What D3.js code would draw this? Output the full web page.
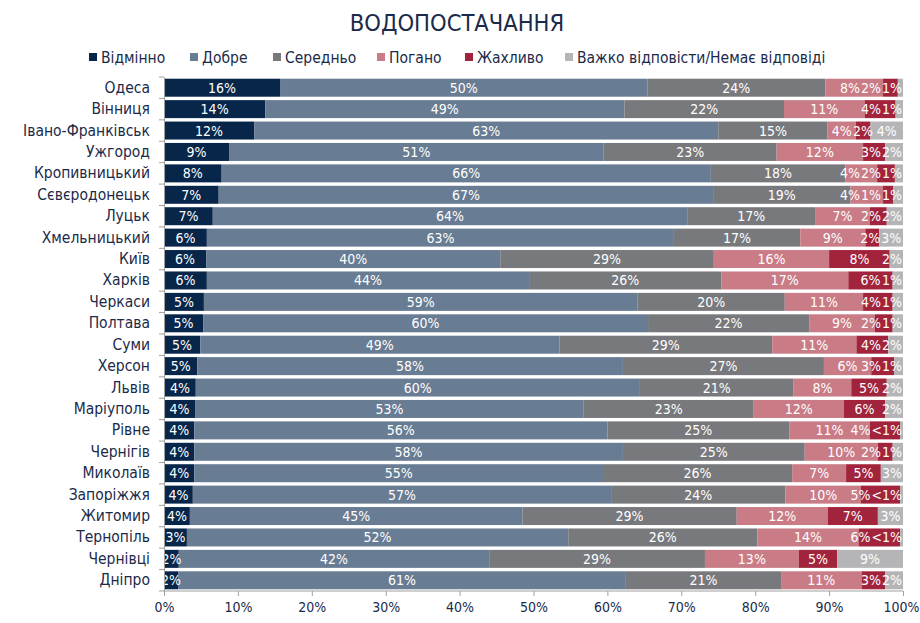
<!DOCTYPE html>
<html><head><meta charset="utf-8">
<script src="https://cdn.jsdelivr.net/npm/d3@7"></script>
<style>
body{margin:0;background:#fff;}
svg{display:block;font-family:"DejaVu Sans Condensed","DejaVu Sans",sans-serif;}
</style></head>
<body><svg id="chart" width="920" height="623"></svg>
<script>
const title = "ВОДОПОСТАЧАННЯ";
const cities = ["Одеса","Вінниця","Івано-Франківськ","Ужгород","Кропивницький","Сєвєродонецьк","Луцьк","Хмельницький","Київ","Харків","Черкаси","Полтава","Суми","Херсон","Львів","Маріуполь","Рівне","Чернігів","Миколаїв","Запоріжжя","Житомир","Тернопіль","Чернівці","Дніпро"];
const seriesNames = ["Відмінно","Добре","Середньо","Погано","Жахливо","Важко відповісти/Немає відповіді"];
const seriesColors = ["#07264a","#687c93","#78797c","#c97b86","#a2243c","#b5b5b7"];
const excellent = [15.7,13.7,12.2,8.8,7.8,7.4,6.6,5.8,5.7,5.8,5.4,5.3,4.9,4.5,4.3,4.2,4.1,4.1,4.1,3.9,3.5,3.1,2.0,1.9];
const good      = [49.7,48.6,62.8,50.7,66.2,66.9,64.2,63.2,39.8,43.6,58.7,60.2,48.6,57.6,60.1,52.6,55.9,58.0,55.3,56.6,45.0,51.6,42.0,60.6];
const average   = [24.1,21.6,14.8,23.4,18.2,18.6,17.3,17.1,28.9,26.0,19.9,21.8,28.8,27.2,20.8,23.0,24.6,24.6,25.6,23.6,29.0,25.6,29.2,21.0];
const bad       = [7.8,10.9,3.8,11.7,4.3,4.4,7.4,8.8,15.6,17.2,10.6,8.9,11.4,6.4,7.8,12.2,10.9,9.9,7.3,10.2,12.3,13.7,12.7,10.9];
const terrible  = [2.0,4.2,2.0,3.0,2.4,1.4,2.3,1.9,8.2,6.0,4.0,2.4,4.3,3.1,4.8,5.6,4.1,2.0,4.7,5.3,6.8,5.6,5.2,3.2];
const noAnswer  = [0.7,1.0,4.4,2.4,1.1,1.3,2.2,3.2,1.8,1.4,1.4,1.4,2.0,1.2,2.2,2.4,0.4,1.4,3.0,0.4,3.4,0.4,8.9,2.4];
const xTicks = [0,10,20,30,40,50,60,70,80,90,100];

const seriesValues = [excellent,good,average,bad,terrible,noAnswer];
const rows = cities.map((c,i)=>{const o={city:c}; seriesNames.forEach((s,j)=>o[s]=seriesValues[j][i]); return o;});
const stack = d3.stack().keys(seriesNames)(rows);

const svg = d3.select("#chart");
const navy = "#1b2a4a";
const m = {left:164, right:903, top:77, bottom:591};

const x = d3.scaleLinear().domain([0,100]).range([m.left,m.right]);
const y = d3.scaleBand().domain(cities).range([m.top,m.bottom]).paddingInner(0.16).paddingOuter(0.08);
const color = d3.scaleOrdinal().domain(seriesNames).range(seriesColors);

svg.append("text").attr("x",457).attr("y",31).attr("text-anchor","middle")
  .attr("fill",navy).attr("font-size",23.5).text(title);

// legend
const legendX = [89,190,273,377,465,565];
const lg = svg.append("g");
seriesNames.forEach((s,i)=>{
  const g = lg.append("g").attr("transform",`translate(${legendX[i]},57)`);
  g.append("rect").attr("x",0).attr("y",-4).attr("width",8).attr("height",8).attr("fill",color(s));
  g.append("text").attr("x",12).attr("y",5.5).attr("fill",navy).attr("font-size",15.5).text(s);
});

// bars
const layer = svg.append("g").selectAll("g").data(stack).join("g").attr("fill",d=>color(d.key));
layer.selectAll("rect").data(d=>d).join("rect")
  .attr("x",d=>x(d[0])).attr("y",d=>y(d.data.city))
  .attr("width",d=>x(d[1])-x(d[0])).attr("height",y.bandwidth());

// value labels (centered, nudged left when crowded at the bar end)
const fmt = v => v < 0.5 ? "<1%" : Math.round(v)+"%";
const labelG = svg.append("g");
cities.forEach((c,i)=>{
  const segs = stack.map(s=>s[i]);
  const texts = segs.map(d=>labelG.append("text")
    .attr("y",y(c)+y.bandwidth()/2+5).attr("text-anchor","middle")
    .attr("fill","#fff").attr("font-size",14).text(fmt(d[1]-d[0])));
  let limit = m.right - 1;
  for (let k = segs.length-1; k >= 0; k--) {
    const w = texts[k].node().getComputedTextLength();
    let cx = (x(segs[k][0])+x(segs[k][1]))/2;
    if (cx + w/2 > limit) cx = limit - w/2;
    texts[k].attr("x",cx);
    limit = cx - w/2 - 1;
  }
});

// axes
const yAxis = svg.append("g").attr("transform",`translate(${m.left},0)`)
  .call(d3.axisLeft(y).tickSize(0).tickPadding(14));
yAxis.select(".domain").attr("stroke","#a0a0a0");
yAxis.selectAll("text").attr("fill",navy).attr("font-size",15.5).attr("font-family","DejaVu Sans Condensed, DejaVu Sans, sans-serif");
svg.append("g").selectAll("line").data(d3.range(cities.length+1)).join("line")
  .attr("x1",m.left-5).attr("x2",m.left)
  .attr("y1",i=>m.top+i*(m.bottom-m.top)/cities.length).attr("y2",i=>m.top+i*(m.bottom-m.top)/cities.length)
  .attr("stroke","#a0a0a0");

const xAxis = svg.append("g").attr("transform",`translate(0,${m.bottom})`)
  .call(d3.axisBottom(x).tickValues(xTicks).tickFormat(d=>d+"%").tickSize(5).tickPadding(6));
xAxis.select(".domain").attr("stroke","#a0a0a0").attr("d",`M${m.left},0H${m.right}`);
xAxis.selectAll(".tick line").attr("stroke","#a0a0a0");
xAxis.selectAll("text").attr("fill",navy).attr("font-size",14).attr("font-family","DejaVu Sans Condensed, DejaVu Sans, sans-serif")
  .attr("dx",d=>d===100?-2:0);
</script></body></html>
